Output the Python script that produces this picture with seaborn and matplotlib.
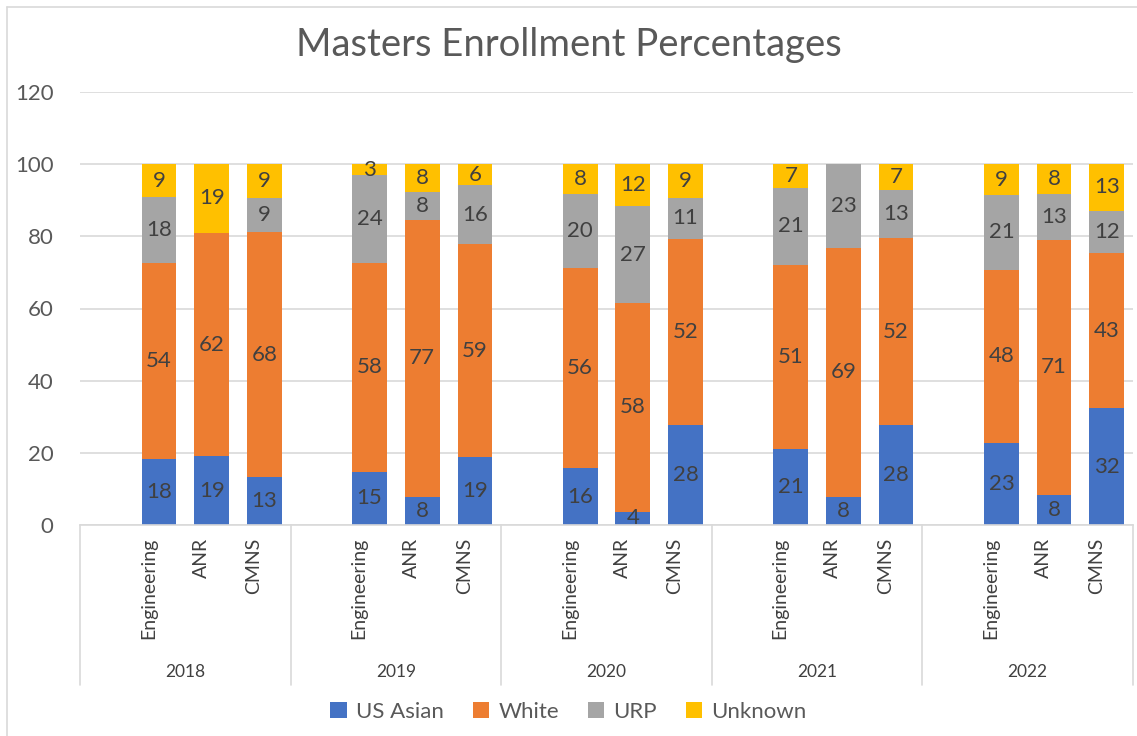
import numpy as np
import pandas as pd
import matplotlib
matplotlib.use("Agg")
import matplotlib.pyplot as plt
import matplotlib.transforms as mtransforms
from matplotlib.patches import Patch
from matplotlib.lines import Line2D
import seaborn as sns

years = ["2018", "2019", "2020", "2021", "2022"]
colleges = ["Engineering", "ANR", "CMNS"]
series_names = ["US Asian", "White", "URP", "Unknown"]
us_asian = [18.2, 19.0, 13.2, 14.8, 7.7, 18.9, 15.7, 3.7, 27.6, 21.1, 7.7, 27.6, 22.6, 8.2, 32.3]
white = [54.5, 62.0, 67.9, 57.9, 76.9, 58.9, 55.6, 57.8, 51.7, 51.0, 69.2, 52.0, 48.2, 70.9, 43.0]
urp = [18.2, 0.0, 9.45, 24.3, 7.7, 16.3, 20.4, 26.9, 11.4, 21.3, 23.1, 13.2, 20.6, 12.6, 11.8]
unknown = [9.1, 19.0, 9.45, 3.0, 7.7, 5.9, 8.3, 11.6, 9.3, 6.6, 0.0, 7.2, 8.6, 8.3, 12.9]
colors = ["#4472C4", "#ED7D31", "#A5A5A5", "#FFC000"]
y_ticks = [0, 20, 40, 60, 80, 100, 120]

sns.set_theme(style="white")
plt.rcParams["font.family"] = ["Lato", "DejaVu Sans"]

# slots: one empty slot leading each year group
slots = []
bar_slots = []
for y in years:
    slots.append(f"{y}|blank")
    for c in colleges:
        slots.append(f"{y}|{c}")
        bar_slots.append(f"{y}|{c}")

vals = np.array([us_asian, white, urp, unknown])
cum = np.cumsum(vals, axis=0)

fig = plt.figure(figsize=(11.37, 7.36), dpi=100)
ax = fig.add_axes([80 / 1137, 1 - 525 / 736, (1133 - 80) / 1137, 433 / 736])

for k in range(3, -1, -1):
    df = pd.DataFrame({"slot": bar_slots, "value": cum[k]})
    sns.barplot(data=df, x="slot", y="value", order=slots, color=colors[k],
                saturation=1, width=0.66, errorbar=None, linewidth=0, ax=ax)

# data labels
pos = {s: i for i, s in enumerate(slots)}
for k in range(4):
    for j, s in enumerate(bar_slots):
        v = vals[k, j]
        if v <= 0:
            continue
        mid = cum[k, j] - v / 2
        ax.text(pos[s], mid, f"{v:.0f}", ha="center", va="center",
                fontsize=16, color="#404040")

ax.set_ylim(0, 120)
ax.set_xlim(-0.5, len(slots) - 0.5)
ax.set_yticks(y_ticks)
ax.set_yticklabels([str(t) for t in y_ticks], fontsize=16, color="#595959")
ax.tick_params(axis="y", length=0, pad=19)
ax.set_xticks([])
ax.set_xlabel("")
ax.set_ylabel("")
ax.grid(axis="y", color="#D9D9D9", linewidth=1.2)
ax.set_axisbelow(True)
for sp in ["left", "right", "top"]:
    ax.spines[sp].set_visible(False)
ax.spines["bottom"].set_color("#D9D9D9")
ax.spines["bottom"].set_linewidth(1.2)

trans = mtransforms.blended_transform_factory(ax.transData, ax.transAxes)
for s in bar_slots:
    ax.text(pos[s] - 0.2, -0.03, s.split("|")[1], transform=trans, rotation=90,
            ha="center", va="top", fontsize=14, color="#404040")
for i, y in enumerate(years):
    ax.text(i * 4 + 1.5, -0.34, y, transform=trans, ha="center", va="center",
            fontsize=12.5, color="#404040")
for b in range(len(years) + 1):
    xb = b * 4 - 0.5
    ax.add_line(Line2D([xb, xb], [0, -0.37], transform=trans, color="#D9D9D9",
                       linewidth=1.2, clip_on=False))

fig.text(0.5, 1 - 45 / 736, "Masters Enrollment Percentages", ha="center",
         va="center", fontsize=27.5, color="#595959")

handles = [Patch(facecolor=c, edgecolor="none", label=n) for c, n in zip(colors, series_names)]
fig.legend(handles=handles, loc="center", bbox_to_anchor=(0.5, 1 - 712 / 736),
           ncol=4, frameon=False, fontsize=16, handlelength=0.75, handleheight=0.75,
           handletextpad=0.4, columnspacing=1.3, labelcolor="#595959")

# chart border
fig.add_artist(Line2D([7 / 1137, 7 / 1137], [0, 1 - 7 / 736], transform=fig.transFigure,
                      color="#D9D9D9", linewidth=1.2))
fig.add_artist(Line2D([7 / 1137, 1], [1 - 7 / 736, 1 - 7 / 736], transform=fig.transFigure,
                      color="#D9D9D9", linewidth=1.2))

fig.savefig("out.png", dpi=100)
